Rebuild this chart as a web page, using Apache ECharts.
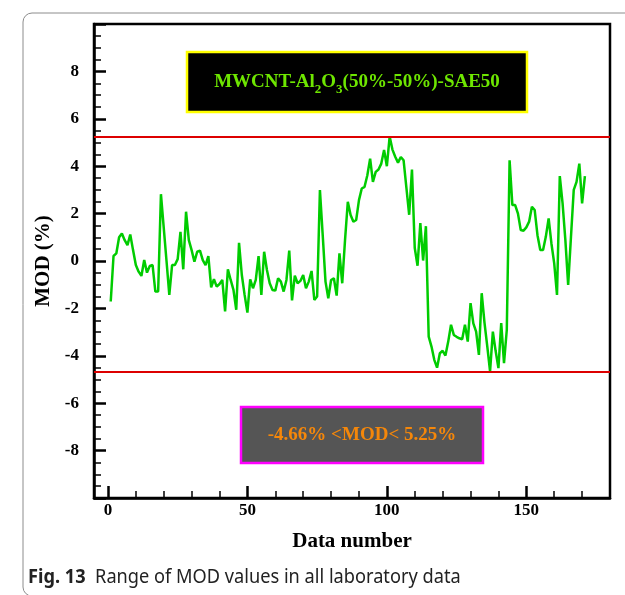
<!DOCTYPE html>
<html><head><meta charset="utf-8">
<script src="https://cdn.jsdelivr.net/npm/echarts@6/dist/echarts.min.js"></script>
<style>html,body{margin:0;padding:0;background:#fff}#c{width:625px;height:595px}</style>
</head><body><div id="c"></div>
<script>
// MOD (%) for data numbers 1..171
const modValues = [
  -1.71, 0.21, 0.32, 1.00, 1.16, 0.88, 0.67, 1.12, 0.46, -0.17,
  -0.45, -0.63, 0.04, -0.49, -0.21, -0.17, -1.29, -1.29, 2.82, 1.41,
  0.00, -1.43, -0.17, -0.17, 0.08, 1.23, -0.35, 2.08, 0.88, 0.46,
  -0.03, 0.39, 0.44, 0.04, -0.17, 0.21, -1.11, -0.77, -1.08, -0.97,
  -0.80, -2.13, -0.35, -0.80, -1.22, -2.06, 0.77, -0.59, -1.43, -2.18,
  -0.77, -1.15, -0.80, 0.21, -1.43, 0.39, -0.38, -0.94, -1.22, -1.25,
  -0.73, -0.87, -1.29, -0.80, 0.44, -1.66, -0.62, -0.94, -0.84, -0.59,
  -1.15, -0.87, -0.42, -1.64, -1.50, 2.99, 1.09, -0.87, -1.57, -0.80,
  -0.73, -1.46, 0.32, -0.94, 0.88, 2.50, 1.94, 1.66, 1.73, 2.57,
  3.06, 3.13, 3.62, 4.32, 3.34, 3.76, 3.86, 4.11, 4.68, 4.00,
  5.25, 4.70, 4.40, 4.15, 4.39, 4.25, 3.10, 1.95, 3.86, 0.55,
  -0.20, 1.60, 0.02, 1.47, -3.19, -3.61, -4.17, -4.50, -3.89, -3.79,
  -3.99, -3.40, -2.69, -3.12, -3.20, -3.26, -3.30, -2.69, -3.40, -1.78,
  -2.63, -2.98, -3.96, -1.36, -2.60, -3.60, -4.66, -2.98, -3.80, -4.52,
  -2.62, -4.31, -2.90, 4.25, 2.36, 2.36, 2.00, 1.31, 1.28, 1.42,
  1.66, 2.29, 2.15, 1.09, 0.46, 0.46, 1.03, 1.80, 0.74, -0.10,
  -1.43, 3.58, 2.43, 0.88, -1.01, 1.00, 3.00, 3.34, 4.11, 2.43,
  3.58
];
const xMajorTicks = [0, 50, 100, 150];
const xMinorTicks = [10, 20, 30, 40, 60, 70, 80, 90, 110, 120, 130, 140, 160, 170];
const upperLimit = 5.25;
const lowerLimit = -4.66;
const xAxisName = 'Data number';
const yAxisName = 'MOD (%)';
const boxTitleRich = 'MWCNT-Al{sub|2}O{sub|3}(50%-50%)-SAE50';
const rangeText = '-4.66% <MOD< 5.25%';
const captionBold = 'Fig. 13';
const captionText = 'Range of MOD values in all laboratory data';

const seriesData = modValues.map((v, i) => [i + 1, v]);
const serif = '"Liberation Serif","Times New Roman",Times,serif';
const sans = '"Noto Sans","Open Sans",sans-serif';

const chart = echarts.init(document.getElementById('c'), null, {renderer: 'canvas'});
chart.setOption({
  animation: false,
  backgroundColor: '#fff',
  grid: {left: 94, top: 24, width: 516, height: 474, show: true,
         borderColor: '#000', borderWidth: 2.5, backgroundColor: 'transparent', containLabel: false},
  xAxis: [{
    type: 'value', min: -5, max: 180,
    axisLine: {show: true, onZero: false, lineStyle: {color: '#000', width: 2.5}},
    axisTick: {show: true, inside: true, length: 12, customValues: xMajorTicks,
               lineStyle: {color: '#000', width: 2.5}},
    axisLabel: {customValues: xMajorTicks, fontFamily: serif, fontWeight: 'bold',
                fontSize: 17, color: '#000', margin: 4},
    splitLine: {show: false},
    name: xAxisName, nameLocation: 'middle', nameGap: 33,
    nameTextStyle: {fontFamily: serif, fontWeight: 'bold', fontSize: 21, color: '#000'}
  }, {
    type: 'value', min: -5, max: 180, position: 'bottom',
    axisLine: {show: false, onZero: false},
    axisTick: {show: true, inside: true, length: 7, customValues: xMinorTicks,
               lineStyle: {color: '#000', width: 1.5}},
    axisLabel: {show: false},
    splitLine: {show: false}
  }],
  yAxis: {
    type: 'value', min: -10, max: 10, interval: 2,
    axisLine: {show: true, onZero: false, lineStyle: {color: '#000', width: 2.5}},
    axisTick: {show: true, inside: true, length: 12, lineStyle: {color: '#000', width: 2.5}},
    minorTick: {show: true, splitNumber: 4, length: 7, lineStyle: {color: '#000', width: 1.5}},
    axisLabel: {showMinLabel: false, showMaxLabel: false, fontFamily: serif, fontWeight: 'bold',
                fontSize: 17, color: '#000', margin: 15},
    splitLine: {show: false},
    minorSplitLine: {show: false},
    name: yAxisName, nameLocation: 'middle', nameGap: 37, nameRotate: 90,
    nameTextStyle: {fontFamily: serif, fontWeight: 'bold', fontSize: 21, color: '#000'}
  },
  series: [{
    type: 'line', data: seriesData, symbol: 'none', showSymbol: false,
    lineStyle: {color: '#00cc00', width: 2.5},
    markLine: {
      symbol: 'none', silent: true, animation: false,
      label: {show: false},
      lineStyle: {color: '#dd0000', width: 2, type: 'solid'},
      data: [{yAxis: upperLimit}, {yAxis: lowerLimit}]
    }
  }],
  graphic: [
    {type: 'rect', left: 20.5, top: 10.5, z: -10,
     shape: {width: 640, height: 583, r: 9},
     style: {fill: 'none', stroke: '#8c8c8c', lineWidth: 1}},
    {type: 'rect', x: 187, y: 52, z: 10,
     shape: {width: 340, height: 60},
     style: {fill: '#000', stroke: '#ffff00', lineWidth: 2.5}},
    {type: 'text', x: 357, y: 82, z: 11,
     style: {text: boxTitleRich, fill: '#6ee600', font: 'bold 19px ' + serif,
             align: 'center', verticalAlign: 'middle',
             rich: {sub: {fontSize: 13, fontWeight: 'bold', fontFamily: serif, fill: '#6ee600',
                          verticalAlign: 'bottom', lineHeight: 29}}}},
    {type: 'rect', x: 241, y: 407, z: 10,
     shape: {width: 242, height: 56},
     style: {fill: '#555555', stroke: '#ff00ff', lineWidth: 2.5}},
    {type: 'text', x: 362, y: 435, z: 11,
     style: {text: rangeText, fill: '#f5870a', font: 'bold 19px ' + serif,
             align: 'center', verticalAlign: 'middle'}},
    {type: 'text', x: 28, y: 577, z: 11, scaleX: 0.91,
     style: {text: '{b|' + captionBold + '}  ' + captionText, fill: '#222',
             font: '20px ' + sans, align: 'left', verticalAlign: 'middle',
             rich: {b: {fontWeight: 'bold', fontFamily: sans, fontSize: 20, fill: '#222'}}}}
  ]
});
</script></body></html>
